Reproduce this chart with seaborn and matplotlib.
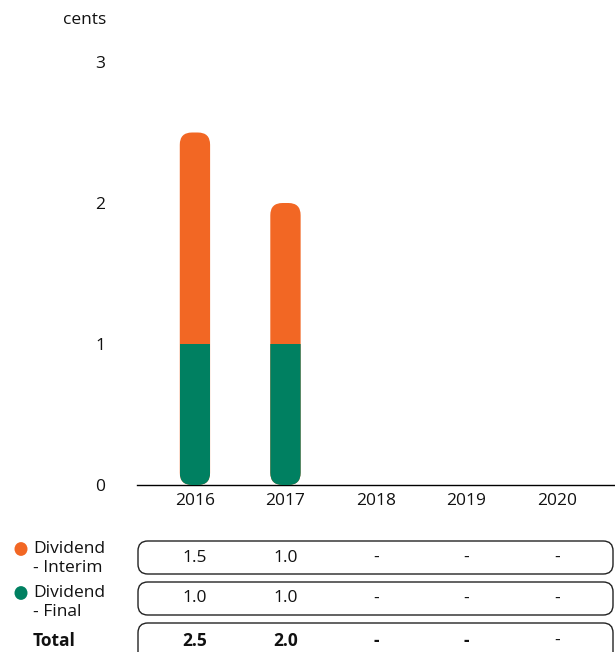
import matplotlib
matplotlib.use("Agg")
import matplotlib.pyplot as plt
from matplotlib.patches import FancyBboxPatch, Circle
from matplotlib.transforms import blended_transform_factory
import numpy as np
import pandas as pd
import seaborn as sns

# Data
years = ["2016", "2017", "2018", "2019", "2020"]
interim = [1.5, 1.0, 0, 0, 0]
final = [1.0, 1.0, 0, 0, 0]
interim_lbl = ["1.5", "1.0", "-", "-", "-"]
final_lbl = ["1.0", "1.0", "-", "-", "-"]
total_lbl = ["2.5", "2.0", "-", "-", "-"]

ORANGE = "#F26724"
GREEN = "#008061"
TXT = "#111111"

df = pd.DataFrame({"year": years, "interim": interim, "final": final})
df["total"] = df["interim"] + df["final"]

sns.set_style("white")
plt.rcParams["font.family"] = ["Open Sans", "DejaVu Sans"]
plt.rcParams["font.size"] = 12.5

W, H = 615, 652
fig = plt.figure(figsize=(W / 100, H / 100), dpi=100)
ax = fig.add_axes([137 / W, 1 - 485 / H, 1 - 137 / W, (485 - 62) / H])

bw = 0.335
sns.barplot(data=df, x="year", y="total", color=ORANGE, width=bw, ax=ax,
            saturation=1, linewidth=0)
n_tot = len(ax.patches)
sns.barplot(data=df, x="year", y="final", color=GREEN, width=bw, ax=ax,
            saturation=1, linewidth=0)

ax.set_xlim(-0.64, 4.64)
ax.set_ylim(0, 3)

# round the stacked bars: orange total as rounded box, green clipped to it
aspect = (1 / 141.0) / (1 / 90.5)
tot_patches = ax.patches[:n_tot]
fin_patches = ax.patches[n_tot:n_tot * 2]
for tp, fp in zip(tot_patches, fin_patches):
    h = tp.get_height()
    if h <= 0:
        tp.set_visible(False)
        fp.set_visible(False)
        continue
    x0, w = tp.get_x(), tp.get_width()
    rp = FancyBboxPatch((x0, 0), w, h, boxstyle="round,pad=0,rounding_size=0.135",
                        mutation_aspect=aspect, facecolor=ORANGE, edgecolor="none",
                        zorder=2)
    ax.add_patch(rp)
    tp.set_visible(False)
    fp.set_zorder(3)
    fp.set_clip_path(rp)

sns.despine(ax=ax, left=True)
ax.spines["bottom"].set_color("black")
ax.spines["bottom"].set_linewidth(1)
ax.set_yticks([0, 1, 2, 3])
ax.set_yticklabels(["0", "1", "2", "3"])
ax.tick_params(axis="y", length=0, pad=23)
ax.tick_params(axis="x", length=0, pad=6)
ax.set_xlabel("")
ax.set_ylabel("")
for t in ax.get_xticklabels() + ax.get_yticklabels():
    t.set_color(TXT)
fig.text(106 / W, 1 - 20 / H, "cents", ha="right", va="center", color=TXT)

# table beneath the chart
tr = blended_transform_factory(ax.transData, fig.transFigure)
rows = [(541, 574, interim_lbl, "normal"), (582, 615, final_lbl, "normal"),
        (623, 662, total_lbl, "bold")]
for top, bot, labels, wt in rows:
    box = FancyBboxPatch((138 / W, 1 - bot / H), (613 - 138) / W, (bot - top) / H,
                         boxstyle="round,pad=0,rounding_size=0.016",
                         transform=fig.transFigure, facecolor="none",
                         edgecolor="#222222", linewidth=1, mutation_aspect=W / H,
                         clip_on=False)
    fig.patches.append(box)
    yc = 1 - 641 / H if wt == "bold" else 1 - ((top + bot) / 2) / H
    for i, s in enumerate(labels):
        ax.text(i, yc, s, transform=tr, ha="center", va="center",
                fontweight=wt if i < 4 else "normal", color=TXT, clip_on=False)

# row legends
for yc, col, l1, l2 in [(549, ORANGE, "Dividend", "- Interim"),
                        (593, GREEN, "Dividend", "- Final")]:
    fig.patches.append(Circle((21 / W, 1 - yc / H), 6.5 / W, transform=fig.transFigure,
                              facecolor=col, edgecolor="none"))
    fig.text(33 / W, 1 - yc / H, l1, ha="left", va="center", color=TXT)
    fig.text(33 / W, 1 - (yc + 19) / H, l2, ha="left", va="center", color=TXT)
fig.text(33 / W, 1 - 641 / H, "Total", ha="left", va="center", fontweight="bold",
         color=TXT)

fig.savefig("out.png", dpi=100)
